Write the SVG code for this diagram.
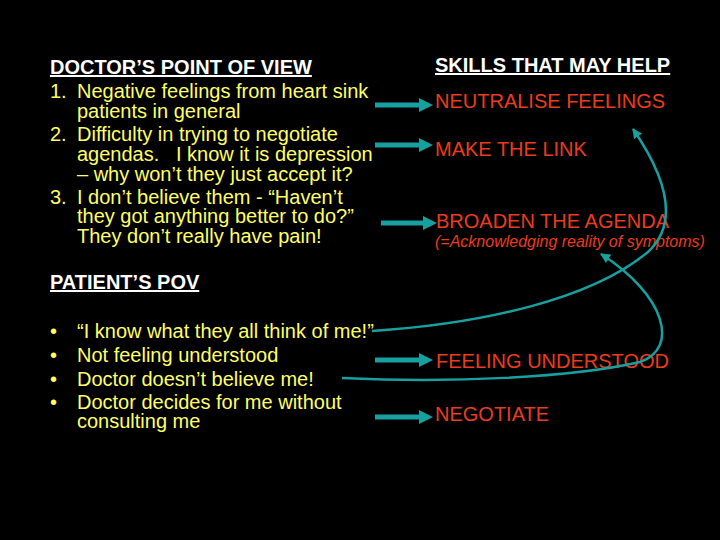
<svg xmlns="http://www.w3.org/2000/svg" width="720" height="540" viewBox="0 0 720 540">
<style>
text{font-family:"Liberation Sans",Arial,sans-serif;font-size:20px}
.h{fill:#ffffff;font-weight:bold;text-decoration:underline}
.y{fill:#ffff66}
.r{fill:#ea3c1e}
.i{fill:#ea3c1e;font-style:italic;font-size:16px}
.arr{fill:#17a0a0}
.crv{fill:none;stroke:#17a0a0;stroke-width:2.5}
</style>
<defs>
<marker id="ah" markerUnits="userSpaceOnUse" markerWidth="12" markerHeight="10" refX="9" refY="5" orient="auto">
<path d="M0,0 L10,5 L0,10 z" fill="#17a0a0"/>
</marker>
</defs>
<rect width="720" height="540" fill="#000"/>
<g id="doctor">
<text class="h" x="50" y="74">DOCTOR’S POINT OF VIEW</text>
<text class="y" x="50" y="98">1.</text>
<text class="y" x="77" y="98">Negative feelings from heart sink</text>
<text class="y" x="77" y="118">patients in general</text>
<text class="y" x="50" y="141">2.</text>
<text class="y" x="77" y="141">Difficulty in trying to negotiate</text>
<text class="y" x="77" y="161" xml:space="preserve">agendas.   I know it is depression</text>
<text class="y" x="77" y="181">– why won’t they just accept it?</text>
<text class="y" x="50" y="204">3.</text>
<text class="y" x="77" y="204">I don’t believe them - “Haven’t</text>
<text class="y" x="77" y="223">they got anything better to do?”</text>
<text class="y" x="77" y="243">They don’t really have pain!</text>
</g>
<g id="patient">
<text class="h" x="50" y="289">PATIENT’S POV</text>
<text class="y" x="50" y="338">•</text>
<text class="y" x="77" y="338">“I know what they all think of me!”</text>
<text class="y" x="50" y="362">•</text>
<text class="y" x="77" y="362">Not feeling understood</text>
<text class="y" x="50" y="386">•</text>
<text class="y" x="77" y="386">Doctor doesn’t believe me!</text>
<text class="y" x="50" y="409">•</text>
<text class="y" x="77" y="409">Doctor decides for me without</text>
<text class="y" x="77" y="428">consulting me</text>
</g>
<g id="skills-title"><text class="h" x="435" y="72">SKILLS THAT MAY HELP</text></g>
<g id="neutralise"><text class="r" x="435" y="108">NEUTRALISE FEELINGS</text></g>
<g id="make-link"><text class="r" x="435" y="156">MAKE THE LINK</text></g>
<g id="broaden"><text class="r" x="436" y="228">BROADEN THE AGENDA</text>
<text class="i" x="435" y="247">(=Acknowledging reality of symptoms)</text></g>
<g id="feeling-understood"><text class="r" x="436" y="368">FEELING UNDERSTOOD</text></g>
<g id="negotiate"><text class="r" x="435" y="421">NEGOTIATE</text></g>
<g id="connectors">
<path class="arr" d="M375,102.5 H419 V98 L433,105 L419,112 V107.5 H375 z"/>
<path class="arr" d="M375,142.5 H419 V138 L433,145 L419,152 V147.5 H375 z"/>
<path class="arr" d="M381,220.5 H423 V216 L437,223 L423,230 V225.5 H381 z"/>
<path class="arr" d="M375,357.5 H419 V353 L433,360 L419,367 V362.5 H375 z"/>
<path class="arr" d="M375,414.5 H419 V410 L433,417 L419,424 V419.5 H375 z"/>
<path class="crv" marker-end="url(#ah)" d="M372,331 C480,324 590,300 648,252 C678,224 668,180 633,129"/>
<path class="crv" marker-end="url(#ah)" d="M342,378 C450,383 570,378 640,362 C680,348 665,295 601,254"/>
</g>
</svg>
